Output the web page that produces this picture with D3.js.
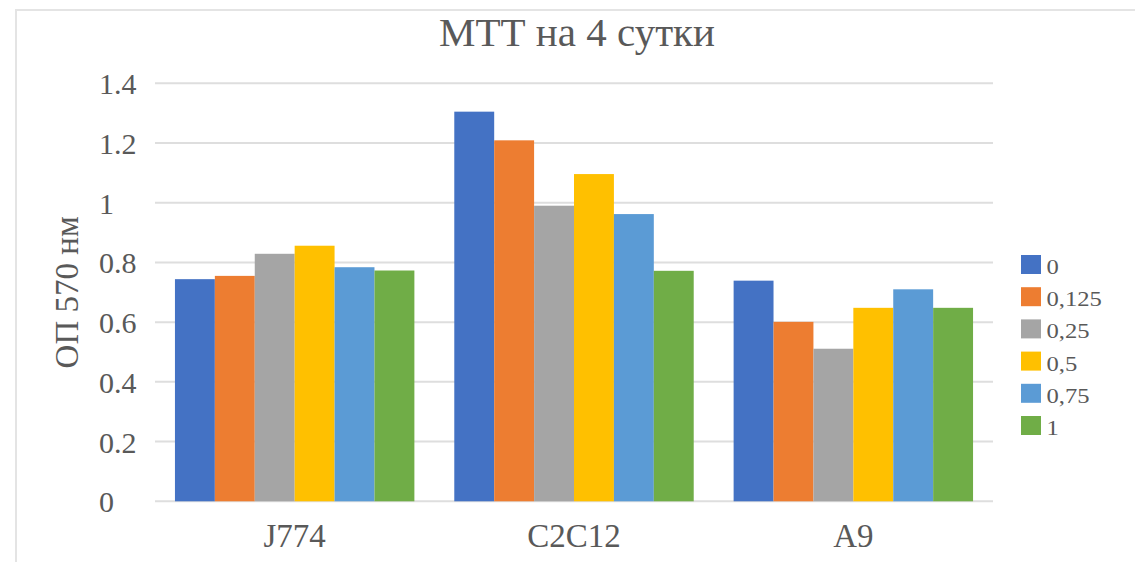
<!DOCTYPE html>
<html>
<head>
<meta charset="utf-8">
<script src="https://cdn.jsdelivr.net/npm/d3@7"></script>
<style>
  html, body { margin: 0; padding: 0; background: #fff; }
  #chart text { font-family: "Liberation Serif", "DejaVu Serif", "Noto Serif", "Times New Roman", Times, serif; }
</style>
</head>
<body>
<svg id="chart" width="1135" height="562"></svg>
<script>
// data
const categories = ["J774", "C2C12", "A9"];
const seriesNames = ["0", "0,125", "0,25", "0,5", "0,75", "1"];
const seriesColors = ["#4472C4", "#ED7D31", "#A5A5A5", "#FFC000", "#5B9BD5", "#70AD47"];
const values = [
  // one row per series, one column per category
  [0.744, 1.305, 0.739],
  [0.755, 1.209, 0.601],
  [0.829, 0.990, 0.511],
  [0.856, 1.096, 0.648],
  [0.784, 0.962, 0.710],
  [0.773, 0.772, 0.648]
];
const yTicks = [0, 0.2, 0.4, 0.6, 0.8, 1, 1.2, 1.4];
const tickLabels = ["0", "0.2", "0.4", "0.6", "0.8", "1", "1.2", "1.4"];

const svg = d3.select("#chart");
const textCol = "#595959";
const gridCol = "#dedede";

// outer chart border (only top/left visible in the crop)
svg.append("rect")
  .attr("x", 16).attr("y", 10)
  .attr("width", 1135).attr("height", 600)
  .attr("fill", "none").attr("stroke", "#e4e4e4").attr("stroke-width", 2);

const plot = { left: 155, right: 993, top: 83.3, bottom: 501.3 };

const y = d3.scaleLinear().domain([0, 1.4]).range([plot.bottom, plot.top]);
const x0 = d3.scaleBand().domain(categories).range([plot.left, plot.right]).paddingInner(0).paddingOuter(0);
const barW = x0.bandwidth() / 7; // gap width 100%
const x1 = d3.scaleBand().domain(d3.range(seriesNames.length))
  .range([barW / 2, x0.bandwidth() - barW / 2]);

// gridlines
svg.append("g").selectAll("line").data(yTicks).join("line")
  .attr("x1", plot.left).attr("x2", plot.right)
  .attr("y1", d => y(d)).attr("y2", d => y(d))
  .attr("stroke", gridCol).attr("stroke-width", 2);

// tick labels (left aligned like the source)
svg.append("g").selectAll("text").data(yTicks).join("text")
  .attr("x", 99).attr("y", d => y(d) + 11)
  .attr("font-size", 30).attr("fill", textCol)
  .text((d, i) => tickLabels[i]);

// bars
const groups = svg.append("g").selectAll("g").data(values).join("g")
  .attr("fill", (d, i) => seriesColors[i]);
groups.each(function (row, si) {
  d3.select(this).selectAll("rect").data(row).join("rect")
    .attr("x", (v, ci) => x0(categories[ci]) + x1(si))
    .attr("width", x1.bandwidth())
    .attr("y", v => y(v))
    .attr("height", v => y(0) - y(v));
});

// category labels
svg.append("g").selectAll("text").data(categories).join("text")
  .attr("x", d => x0(d) + x0.bandwidth() / 2)
  .attr("y", 547)
  .attr("text-anchor", "middle")
  .attr("font-size", 33).attr("fill", textCol)
  .text(d => d);

// title
svg.append("text")
  .attr("x", 577).attr("y", 46)
  .attr("text-anchor", "middle")
  .attr("font-size", 41).attr("fill", textCol)
  .text("МТТ на 4 сутки");

// y axis title
svg.append("text")
  .attr("transform", `translate(78,${(plot.top + plot.bottom) / 2}) rotate(-90)`)
  .attr("text-anchor", "middle")
  .attr("font-size", 33).attr("fill", textCol)
  .text("ОП 570 нм");

// legend
const legend = svg.append("g").attr("transform", "translate(1021,255)");
const items = legend.selectAll("g").data(seriesNames).join("g")
  .attr("transform", (d, i) => `translate(0,${i * 32.2})`);
items.append("rect")
  .attr("width", 20).attr("height", 19)
  .attr("fill", (d, i) => seriesColors[i]);
items.append("text")
  .attr("transform", "translate(25.5,19) scale(1.12,1)")
  .attr("font-size", 22).attr("fill", textCol)
  .text(d => d);
</script>
</body>
</html>
